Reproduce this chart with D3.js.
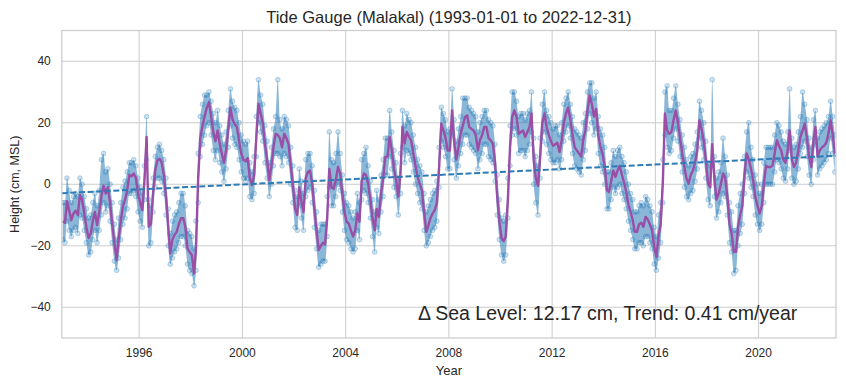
<!DOCTYPE html>
<html>
<head>
<meta charset="utf-8">
<script src="https://cdn.jsdelivr.net/npm/d3@7"></script>
<style>
    body { margin: 0; background: #fff; }
    text { font-family: "Liberation Sans", Arial, sans-serif; fill: #262626; }
</style>
</head>
<body>
<svg id="chart" width="846" height="387"></svg>
<script>
// monthly mean sea level (cm, MSL), Jan 1993 .. Dec 2022, one row per year
const monthlyMean = [
    -12, -12.5, -5.5, -8.5, -11.7, -9.5, -8.6, -10, -3.5, -5, -9.5, -14,
    -17.5, -16, -12, -9, -13.3, -9, -4, -0.5, -3, -1, -6, -13,
    -19, -24.6, -18, -12, -7.4, -5, -2, 3, 2.6, 3.5, 2, -3,
    -6, -8.4, 1, 15.4, -13.8, -13, -3, 4.5, 7.8, 8.3, 7, 3,
    -4, -13.8, -22.5, -18, -16.5, -15.5, -13, -11, -11, -13.8, -21, -22,
    -23, -29, -21, 2, 15, 19, 22, 25, 26.7, 22, 17, 14,
    17.5, 13, 10, 7, 11, 18, 25, 21, 19.5, 18.6, 14, 10,
    8, 7.5, 8.5, 2, -0.3, 3, 15, 26.2, 23, 20, 13, 8,
    1.3, 6, 12, 16.4, 16, 15, 12, 16.4, 15, 13, 6, 0,
    -8, -10, -1, -5.5, -9, 2, 4, 4.5, 0, -8, -15, -21.4,
    -20, -19, -19.5, -11, 5, -1, -1.5, 1.5, 5.6, 3.5, -3, -9,
    -12.2, -12.8, -15, -17, -15, -9.5, -12.2, 1, 3.5, 3, 0, -5,
    -11, -15, -8, -10.6, -3, 2, 8.9, 9, 15.4, 11, 5, 1.3,
    -4, 3.5, 18.6, 13.2, 17, 15.5, 14.3, 10, 6, 2.4, 0, -2,
    -9, -15.5, -13.5, -11, -9.5, -8.4, -6, 5, 19.7, 17.5, 15, 11,
    11, 24, 14, 8, 12, 16.4, 19, 21.8, 22.4, 18.6, 18, 17.5,
    16, 11, 14.3, 16, 18.6, 18.6, 15, 14.3, 13, 7, -4, -12,
    -17.5, -18.5, -17, -5, 12, 22, 24, 21.8, 16.4, 17, 17.5, 15.4,
    17, 18.6, 23, 8, 2, -0.5, 8.9, 20, 23, 18.6, 16, 14,
    12.5, 13, 13.5, 10.5, 14.3, 20, 23, 25, 21, 16, 12, 11,
    10, 9, 14.3, 17.5, 24, 28.9, 26.2, 22, 24.5, 16, 12, 10,
    5.6, -2, -2.5, 1, 4.5, 2.4, 4.5, 6, 3, 0.5, -2.5, -6.5,
    -9, -11.7, -15.5, -15.5, -13, -12.5, -13.8, -10.6, -11.5, -13, -15, -20.3,
    -23.6, -17, -13, 0.2, 23, 17.5, 16.4, 17, 21, 24, 20, 15,
    10, 5.6, 2, 0.2, 3, 4.5, 7, 11, 20.8, 18, 14, 8,
    0.2, -1, 13, 2, -5, -3, 0, 3.5, 2, -4, -13, -16,
    -22, -22, -14, -10, -7, 3, 10, 8, 5, 1.5, -4, -7,
    -9.5, -7, 0.2, 6, 5.6, 5.6, 6, 10, 14.3, 12.5, 11, 8,
    7, 11, 17.5, 8, 5.6, 7, 11, 15.4, 17.5, 19.7, 15, 9,
    5.6, 14.3, 18.6, 9, 11, 12, 12.5, 13.5, 16.4, 20.8, 16, 10
];

// highest daily readings in each month
const dailyHigh = [
    -6, -6, 2, -2, -6, -4, -3, -4, 2, 0, -4, -8,
    -11, -10, -6, -3, -7, -2, 8, 10, 4, 5, 0, -6,
    -13, -18, -11, -6, -1, 1, 4, 7, 7, 8, 6, 2,
    -1, -3, 6, 22, -5, -7, 2, 9, 12, 13, 11, 8,
    2, -8, -16, -12, -10, -9, -6, -3, -3, -7, -15, -16,
    -17, -21, -12, 10, 22, 26, 29, 29, 30, 27, 23, 20,
    24, 19, 16, 13, 17, 24, 31, 27, 25, 24, 20, 16,
    14, 13, 14, 7, 4, 9, 22, 34, 29, 26, 19, 14,
    7, 12, 18, 22, 34, 21, 18, 22, 21, 19, 12, 6,
    -2, -4, 5, 1, -3, 8, 10, 10, 6, -2, -9, -15,
    -13, -13, -13, -4, 17, 8, 7, 10, 17, 10, 3, -3,
    -6, -7, -9, -11, -9, -3, -6, 8, 10, 12, 6, 1,
    -5, -9, -2, -5, 3, 8, 15, 15, 24, 17, 11, 7,
    2, 10, 24, 19, 23, 21, 20, 16, 12, 8, 6, 4,
    -3, -9, -7, -5, -3, -2, 1, 12, 25, 23, 21, 17,
    18, 31, 21, 14, 18, 22, 28, 28, 28, 25, 24, 23,
    22, 17, 20, 22, 24, 24, 21, 20, 19, 13, 3, -5,
    -11, -12, -10, 2, 19, 30, 30, 27, 22, 23, 23, 21,
    23, 24, 30, 15, 9, 6, 15, 26, 30, 24, 22, 20,
    18, 19, 19, 16, 20, 26, 28, 30, 26, 22, 18, 17,
    16, 15, 20, 23, 30, 33, 33, 28, 30, 22, 18, 16,
    12, 4, 4, 7, 11, 9, 11, 12, 9, 7, 4, 0,
    -3, -5, -9, -9, -7, -6, -7, -4, -5, -7, -9, -14,
    -17, -10, -6, 8, 30, 32, 24, 24, 28, 32, 26, 21,
    16, 12, 8, 6, 9, 10, 13, 17, 27, 24, 20, 14,
    7, 6, 34, 9, 2, 4, 7, 15, 9, 3, -6, -9,
    -15, -15, -7, -3, 0, 9, 17, 20, 12, 8, 3, 0,
    -3, 0, 7, 12, 12, 12, 12, 16, 20, 19, 17, 14,
    13, 17, 31, 15, 12, 13, 17, 22, 30, 26, 21, 15,
    12, 21, 24, 15, 17, 18, 19, 20, 22, 27, 22, 16
];

// lowest daily readings in each month
const dailyLow = [
    -18, -19, -12, -15, -17, -15, -14, -16, -10, -11, -15, -19,
    -23, -22, -18, -15, -19, -15, -10, -6, -9, -7, -12, -19,
    -25, -28, -24, -18, -13, -11, -8, -3, -3, -2, -4, -9,
    -12, -14, -5, 8, -20, -19, -9, -1, 2, 2, 1, -3,
    -10, -20, -26, -24, -22, -21, -19, -17, -17, -20, -26, -28,
    -29, -33, -28, -6, 9, 13, 16, 19, 20, 16, 11, 8,
    11, 7, 4, 1, 5, 12, 19, 15, 13, 12, 8, 4,
    2, 1, 2, -4, -5, -3, 9, 20, 17, 14, 7, 2,
    -4, 0, 6, 10, 10, 9, 6, 10, 9, 7, 0, -6,
    -14, -15, -7, -11, -15, -4, -2, -1, -6, -14, -21, -27,
    -26, -25, -25, -17, -1, -7, -7, -4, 0, -2, -9, -15,
    -18, -19, -21, -22, -21, -15, -18, -5, -2, -3, -6, -11,
    -17, -22, -14, -16, -9, -4, 3, 3, 9, 5, -1, -4,
    -10, -3, 12, 7, 11, 10, 8, 4, 0, -3, -6, -8,
    -15, -20, -19, -17, -15, -14, -12, -1, 14, 12, 9, 5,
    5, 16, 8, 2, 6, 10, 13, 16, 16, 13, 12, 11,
    10, 5, 8, 10, 13, 13, 9, 8, 7, 1, -10, -18,
    -23, -25, -23, -11, 6, 16, 18, 16, 10, 11, 11, 9,
    11, 13, 17, 0, -6, -10, 2, 14, 17, 13, 10, 8,
    7, 7, 8, 5, 8, 14, 17, 19, 15, 10, 6, 5,
    4, 3, 8, 11, 18, 23, 20, 16, 18, 10, 6, 4,
    0, -8, -8, -5, -1, -3, -1, 0, -3, -5, -8, -12,
    -15, -18, -21, -21, -19, -19, -20, -17, -17, -19, -21, -26,
    -28, -24, -19, -6, 16, 12, 10, 11, 15, 18, 14, 9,
    4, -1, -4, -5, -3, -2, 1, 5, 15, 12, 8, 2,
    -5, -7, 6, -4, -11, -9, -6, -3, -4, -10, -19, -22,
    -29, -28, -20, -16, -13, -3, 4, 2, -1, -4, -10, -13,
    -15, -13, -6, 0, 0, 0, 0, 4, 8, 7, 5, 2,
    1, 5, 11, 2, 0, 1, 5, 10, 12, 14, 9, 3,
    0, 8, 13, 3, 5, 6, 7, 8, 10, 15, 10, 4
];

// linear trend, value at start and end of record
const trendDates = ["1993-01-01", "2022-12-31"];
const trendValues = [-2.9, 9.27];

const yTicks = [-40, -20, 0, 20, 40];
const xTickYears = [1996, 2000, 2004, 2008, 2012, 2016, 2020];

const titleText = "Tide Gauge (Malakal) (1993-01-01 to 2022-12-31)";
const noteText = "\u0394 Sea Level: 12.17 cm, Trend: 0.41 cm/year";

const width = 846, height = 387;
const margin = {top: 30.5, right: 10, bottom: 49, left: 61.8};
const innerWidth = width - margin.left - margin.right;
const innerHeight = height - margin.top - margin.bottom;

const svg = d3.select("#chart");

const months = monthlyMean.map((v, i) => ({
    date: new Date(Date.UTC(1993, i, 15)),
    mean: v,
    hi: dailyHigh[i],
    lo: dailyLow[i]
}));

const x = d3.scaleUtc()
    .domain([new Date("1993-01-01"), new Date("2022-12-31")])
    .range([0, innerWidth]);
const y = d3.scaleLinear()
    .domain([-50, 50])
    .range([innerHeight, 0]);

const g = svg.append("g")
    .attr("transform", "translate(" + margin.left + "," + margin.top + ")");

g.append("defs").append("clipPath").attr("id", "clip")
    .append("rect").attr("width", innerWidth).attr("height", innerHeight);

// grid
g.append("g")
    .selectAll("line")
    .data(yTicks)
    .enter().append("line")
    .attr("x1", 0).attr("x2", innerWidth)
    .attr("y1", d => y(d)).attr("y2", d => y(d))
    .attr("stroke", "#cccccc").attr("stroke-width", 1);

g.append("g")
    .selectAll("line")
    .data(xTickYears)
    .enter().append("line")
    .attr("x1", d => x(new Date(Date.UTC(d, 0, 1))))
    .attr("x2", d => x(new Date(Date.UTC(d, 0, 1))))
    .attr("y1", 0).attr("y2", innerHeight)
    .attr("stroke", "#cccccc").attr("stroke-width", 1);

const plot = g.append("g").attr("clip-path", "url(#clip)");

// spread of the daily readings
const band = d3.area()
    .curve(d3.curveMonotoneX)
    .x(d => x(d.date))
    .y0(d => y(d.lo))
    .y1(d => y(d.hi));

plot.append("path")
    .datum(months)
    .attr("d", band)
    .attr("fill", "#2a7ab8")
    .attr("fill-opacity", 0.55);

const dots = [];
months.forEach(d => {
    dots.push({date: d.date, value: d.hi});
    dots.push({date: d.date, value: d.lo});
});

plot.selectAll(".dot")
    .data(dots)
    .enter().append("circle")
    .attr("class", "dot")
    .attr("cx", d => x(d.date))
    .attr("cy", d => y(d.value))
    .attr("r", 2.4)
    .attr("fill", "#1f77b4")
    .attr("fill-opacity", 0.22)
    .attr("stroke", "#1f77b4")
    .attr("stroke-opacity", 0.35)
    .attr("stroke-width", 0.8);

// monthly mean line
const line = d3.line()
    .x(d => x(d.date))
    .y(d => y(d.mean));

plot.append("path")
    .datum(months)
    .attr("d", line)
    .attr("fill", "none")
    .attr("stroke", "#9a4ea6")
    .attr("stroke-width", 2.4)
    .attr("stroke-linejoin", "round");

// trend
plot.append("line")
    .attr("x1", x(new Date(trendDates[0])))
    .attr("x2", x(new Date(trendDates[1])))
    .attr("y1", y(trendValues[0]))
    .attr("y2", y(trendValues[1]))
    .attr("stroke", "#2c7bb6")
    .attr("stroke-width", 2)
    .attr("stroke-dasharray", "6,2.6");

// frame
g.append("rect")
    .attr("width", innerWidth).attr("height", innerHeight)
    .attr("fill", "none")
    .attr("stroke", "#cccccc").attr("stroke-width", 1.25);

// tick labels
g.append("g")
    .selectAll("text")
    .data(yTicks)
    .enter().append("text")
    .attr("x", -11)
    .attr("y", d => y(d))
    .attr("dy", "0.35em")
    .attr("text-anchor", "end")
    .style("font-size", "12px")
    .text(d => d < 0 ? "\u2212" + Math.abs(d) : d);

g.append("g")
    .selectAll("text")
    .data(xTickYears)
    .enter().append("text")
    .attr("x", d => x(new Date(Date.UTC(d, 0, 1))))
    .attr("y", innerHeight + 19)
    .attr("text-anchor", "middle")
    .style("font-size", "12px")
    .text(d => d);

// labels
svg.append("text")
    .attr("x", margin.left + innerWidth / 2)
    .attr("y", 23)
    .attr("text-anchor", "middle")
    .style("font-size", "16.5px")
    .text(titleText);

svg.append("text")
    .attr("x", margin.left + innerWidth / 2)
    .attr("y", 375)
    .attr("text-anchor", "middle")
    .style("font-size", "13px")
    .text("Year");

svg.append("text")
    .attr("transform", "translate(19," + (margin.top + innerHeight / 2) + ") rotate(-90)")
    .attr("text-anchor", "middle")
    .style("font-size", "12.5px")
    .text("Height (cm, MSL)");

g.append("text")
    .attr("x", innerWidth * 0.95)
    .attr("y", innerHeight - 18.5)
    .attr("text-anchor", "end")
    .style("font-size", "19.5px")
    .text(noteText);
</script>
</body>
</html>
